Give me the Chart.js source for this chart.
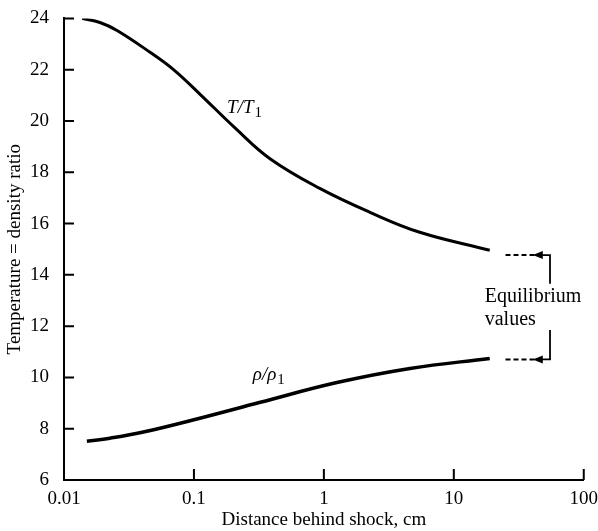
<!DOCTYPE html>
<html>
<head>
<meta charset="utf-8">
<script src="https://cdn.jsdelivr.net/npm/chart.js@4.4.1/dist/chart.umd.min.js"></script>
<style>
  html, body { margin: 0; padding: 0; background: #fff; }
</style>
</head>
<body>
<canvas id="shockChart" width="598" height="531"></canvas>
<script>
// distance behind shock (cm) and ratios along each curve
const tempX = [0.0138, 0.0189, 0.0256, 0.0459, 0.0689, 0.111, 0.207, 0.385, 0.93, 2.26, 5.47, 18.9];
const tempY = [24.0, 23.84, 23.53, 22.68, 22.02, 21.05, 19.73, 18.53, 17.37, 16.44, 15.66, 14.96];
const rhoX = [0.015, 0.0226, 0.040, 0.111, 0.324, 1.26, 4.6, 18.9];
const rhoY = [7.51, 7.63, 7.86, 8.41, 9.03, 9.80, 10.35, 10.74];

// equilibrium levels, drawn as short dashes past the end of the curves
const eqX = [25, 42];
const eqTemp = 14.77;
const eqRho = 10.7;

const xTicks = [0.01, 0.1, 1, 10, 100];
const yTicks = [6, 8, 10, 12, 14, 16, 18, 20, 22, 24];

const serif = '"Liberation Serif", "DejaVu Serif", serif';

const toPts = (xs, ys) => xs.map((x, i) => ({ x: x, y: ys[i] }));

const overlay = {
  id: 'overlay',
  afterDatasetsDraw(chart) {
    const { ctx, scales: { x, y }, chartArea: a } = chart;
    ctx.save();
    ctx.strokeStyle = '#000';
    ctx.fillStyle = '#000';
    ctx.lineWidth = 2;

    // inward tick marks
    ctx.beginPath();
    yTicks.slice(1).forEach(v => {
      const py = y.getPixelForValue(v);
      ctx.moveTo(a.left, py);
      ctx.lineTo(a.left + 10, py);
    });
    xTicks.slice(1).forEach(v => {
      const px = x.getPixelForValue(v);
      ctx.moveTo(px, a.bottom);
      ctx.lineTo(px, a.bottom - 11);
    });
    ctx.stroke();

    // bracket with arrows to the equilibrium dashes
    const tip = x.getPixelForValue(eqX[1]);
    const bx = x.getPixelForValue(55);
    const yT = y.getPixelForValue(eqTemp);
    const yR = y.getPixelForValue(eqRho);
    ctx.lineWidth = 1.8;
    ctx.beginPath();
    ctx.moveTo(tip + 6, yT);
    ctx.lineTo(bx, yT);
    ctx.lineTo(bx, y.getPixelForValue(13.65));
    ctx.moveTo(bx, y.getPixelForValue(11.85));
    ctx.lineTo(bx, yR);
    ctx.lineTo(tip + 6, yR);
    ctx.stroke();
    [yT, yR].forEach(py => {
      ctx.beginPath();
      ctx.moveTo(tip - 2, py);
      ctx.lineTo(tip + 8, py - 4);
      ctx.lineTo(tip + 8, py + 4);
      ctx.closePath();
      ctx.fill();
    });

    ctx.font = '20px ' + serif;
    ctx.textBaseline = 'middle';
    ctx.textAlign = 'left';
    const tx = x.getPixelForValue(17.3);
    ctx.fillText('Equilibrium', tx, y.getPixelForValue(13.15));
    ctx.fillText('values', tx, y.getPixelForValue(12.25));

    // curve labels
    const label = (main, sub, xv, yv) => {
      let px = x.getPixelForValue(xv);
      const py = y.getPixelForValue(yv);
      ctx.font = 'italic 19px ' + serif;
      ctx.fillText(main, px, py);
      px += ctx.measureText(main).width + 1;
      ctx.font = '15px ' + serif;
      ctx.fillText(sub, px, py + 5);
    };
    label('T/T', '1', 0.18, 20.5);
    label('\u03C1/\u03C1', '1', 0.284, 10.1);

    ctx.restore();
  }
};

new Chart(document.getElementById('shockChart'), {
  type: 'scatter',
  data: {
    datasets: [
      {
        label: 'T/T1',
        data: toPts(tempX, tempY),
        showLine: true,
        borderColor: '#000',
        borderWidth: 3,
        pointRadius: 0,
        tension: 0.4,
      },
      {
        label: 'rho/rho1',
        data: toPts(rhoX, rhoY),
        showLine: true,
        borderColor: '#000',
        borderWidth: 3.5,
        pointRadius: 0,
        tension: 0.4,
      },
      {
        label: 'T equilibrium',
        data: toPts(eqX, [eqTemp, eqTemp]),
        showLine: true,
        borderColor: '#000',
        borderWidth: 2,
        borderDash: [5, 3],
        pointRadius: 0,
      },
      {
        label: 'rho equilibrium',
        data: toPts(eqX, [eqRho, eqRho]),
        showLine: true,
        borderColor: '#000',
        borderWidth: 2,
        borderDash: [5, 3],
        pointRadius: 0,
      },
    ],
  },
  options: {
    responsive: false,
    animation: false,
    devicePixelRatio: 1,
    layout: { padding: { top: 4, right: 11, left: 0, bottom: 0 } },
    plugins: {
      legend: { display: false },
      tooltip: { enabled: false },
    },
    scales: {
      x: {
        type: 'logarithmic',
        min: 0.01,
        max: 100,
        afterBuildTicks: s => { s.ticks = xTicks.map(v => ({ value: v })); },
        afterFit: s => { s.height = 51; },
        ticks: {
          color: '#000',
          font: { family: serif, size: 19 },
          padding: 0,
          maxRotation: 0,
          callback: v => String(v),
        },
        grid: { display: false },
        border: { display: true, color: '#000', width: 2 },
        title: {
          display: true,
          text: 'Distance behind shock, cm',
          color: '#000',
          font: { family: serif, size: 19 },
          padding: { top: 0, bottom: 0 },
        },
      },
      y: {
        min: 6,
        max: 24,
        afterBuildTicks: s => { s.ticks = yTicks.map(v => ({ value: v })); },
        afterFit: s => { s.width = 64; },
        ticks: {
          color: '#000',
          font: { family: serif, size: 19 },
          padding: 7,
        },
        grid: { display: false },
        border: { display: true, color: '#000', width: 2 },
        title: {
          display: true,
          text: 'Temperature = density ratio',
          color: '#000',
          font: { family: serif, size: 19 },
          padding: { top: 4, bottom: 0 },
        },
      },
    },
  },
  plugins: [overlay],
});
</script>
</body>
</html>
